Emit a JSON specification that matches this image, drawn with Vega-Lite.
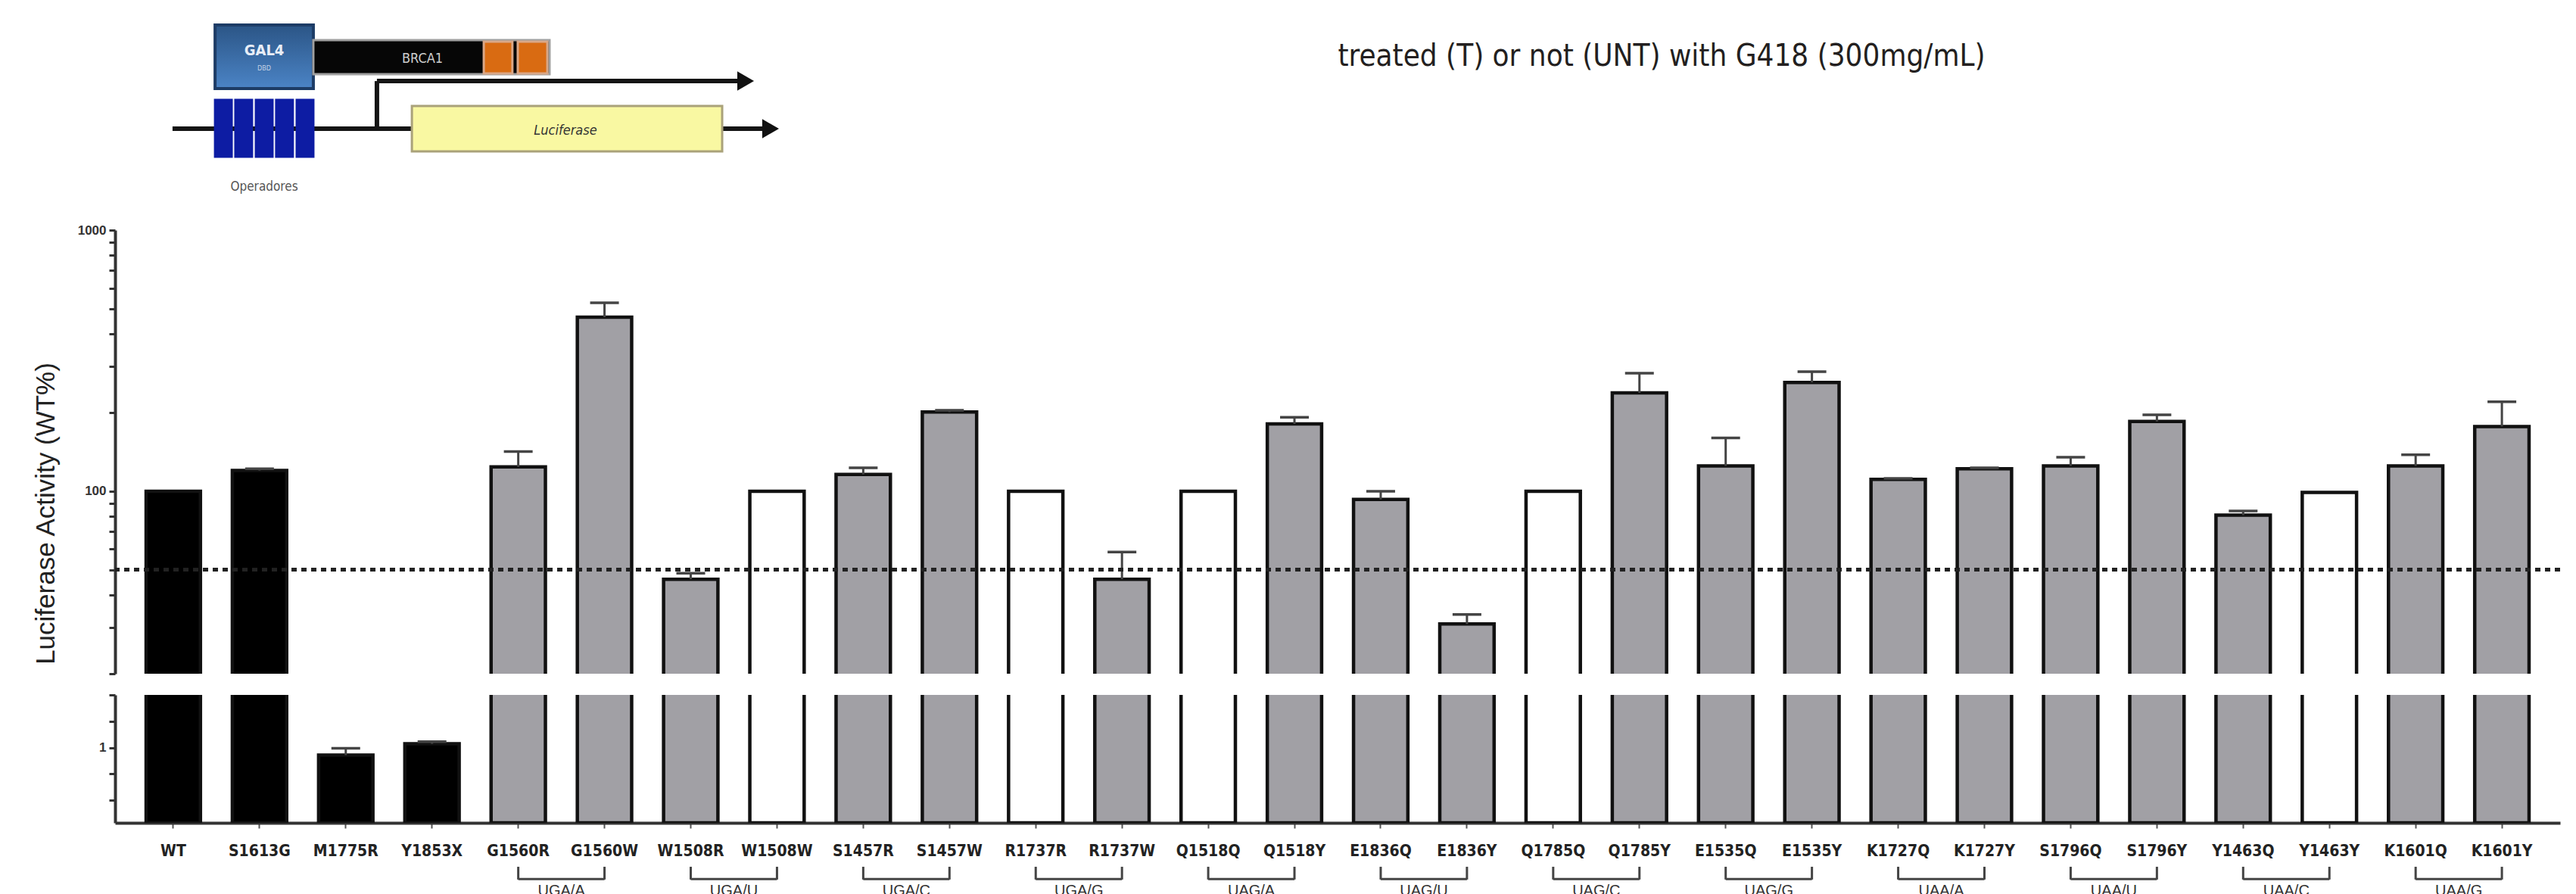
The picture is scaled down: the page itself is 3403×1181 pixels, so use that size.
{
  "$schema": "https://vega.github.io/schema/vega-lite/v6.json",
  "background": "white",
  "padding": {"left": 43, "top": 0, "right": 0, "bottom": 0},
  "bounds": "flush",
  "spacing": 28,
  "resolve": {"scale": {"fill": "independent", "stroke": "independent"}},
  "config": {"view": {"stroke": null}, "axis": {"grid": false}},
  "datasets": {
    "bars": [
      {"name": "WT", "value": 100, "err": null, "type": "control"},
      {"name": "S1613G", "value": 120, "err": 122, "type": "control"},
      {"name": "M1775R", "value": 0.9, "err": 0.99, "type": "control"},
      {"name": "Y1853X", "value": 1.05, "err": 1.08, "type": "control"},
      {"name": "G1560R", "value": 124, "err": 142, "type": "mut"},
      {"name": "G1560W", "value": 464, "err": 527, "type": "mut"},
      {"name": "W1508R", "value": 46, "err": 48.5, "type": "mut"},
      {"name": "W1508W", "value": 100, "err": null, "type": "syn"},
      {"name": "S1457R", "value": 116, "err": 123, "type": "mut"},
      {"name": "S1457W", "value": 201, "err": 204, "type": "mut"},
      {"name": "R1737R", "value": 100, "err": null, "type": "syn"},
      {"name": "R1737W", "value": 46, "err": 58.5, "type": "mut"},
      {"name": "Q1518Q", "value": 100, "err": null, "type": "syn"},
      {"name": "Q1518Y", "value": 181, "err": 192, "type": "mut"},
      {"name": "E1836Q", "value": 93, "err": 100, "type": "mut"},
      {"name": "E1836Y", "value": 31, "err": 33.7, "type": "mut"},
      {"name": "Q1785Q", "value": 100, "err": null, "type": "syn"},
      {"name": "Q1785Y", "value": 238, "err": 283, "type": "mut"},
      {"name": "E1535Q", "value": 125, "err": 160, "type": "mut"},
      {"name": "E1535Y", "value": 261, "err": 287, "type": "mut"},
      {"name": "K1727Q", "value": 111, "err": 112, "type": "mut"},
      {"name": "K1727Y", "value": 122, "err": 123, "type": "mut"},
      {"name": "S1796Q", "value": 125, "err": 135, "type": "mut"},
      {"name": "S1796Y", "value": 185, "err": 196, "type": "mut"},
      {"name": "Y1463Q", "value": 81, "err": 84, "type": "mut"},
      {"name": "Y1463Y", "value": 99, "err": null, "type": "syn"},
      {"name": "K1601Q", "value": 125, "err": 138, "type": "mut"},
      {"name": "K1601Y", "value": 177, "err": 220, "type": "mut"}
    ],
    "groups": [
      {"group": "UGA/A", "a": "G1560R", "b": "G1560W"},
      {"group": "UGA/U", "a": "W1508R", "b": "W1508W"},
      {"group": "UGA/C", "a": "S1457R", "b": "S1457W"},
      {"group": "UGA/G", "a": "R1737R", "b": "R1737W"},
      {"group": "UAG/A", "a": "Q1518Q", "b": "Q1518Y"},
      {"group": "UAG/U", "a": "E1836Q", "b": "E1836Y"},
      {"group": "UAG/C", "a": "Q1785Q", "b": "Q1785Y"},
      {"group": "UAG/G", "a": "E1535Q", "b": "E1535Y"},
      {"group": "UAA/A", "a": "K1727Q", "b": "K1727Y"},
      {"group": "UAA/U", "a": "S1796Q", "b": "S1796Y"},
      {"group": "UAA/C", "a": "Y1463Q", "b": "Y1463Y"},
      {"group": "UAA/G", "a": "K1601Q", "b": "K1601Y"}
    ],
    "diagram": [
      {"kind": "gal4", "part": "GAL4", "x1": 4.09, "x2": 8.11, "y1": 1.2, "y2": 4.24},
      {"kind": "rect", "part": "BRCA1", "x1": 8.11, "x2": 17.77, "y1": 1.92, "y2": 3.55},
      {"kind": "rect", "part": "motif", "x1": 15.08, "x2": 16.25, "y1": 1.99, "y2": 3.51},
      {"kind": "rect", "part": "motif", "x1": 16.47, "x2": 17.68, "y1": 1.99, "y2": 3.51},
      {"kind": "rect", "part": "operator", "x1": 4.09, "x2": 4.77, "y1": 4.78, "y2": 7.5},
      {"kind": "rect", "part": "operator", "x1": 4.92, "x2": 5.6, "y1": 4.78, "y2": 7.5},
      {"kind": "rect", "part": "operator", "x1": 5.76, "x2": 6.44, "y1": 4.78, "y2": 7.5},
      {"kind": "rect", "part": "operator", "x1": 6.59, "x2": 7.27, "y1": 4.78, "y2": 7.5},
      {"kind": "rect", "part": "operator", "x1": 7.43, "x2": 8.11, "y1": 4.78, "y2": 7.5},
      {"kind": "rect", "part": "Luciferase", "x1": 12.14, "x2": 24.83, "y1": 5.07, "y2": 7.25},
      {"kind": "line", "part": "promoter", "x1": 10.71, "x2": 10.71, "y1": 3.88, "y2": 6.16},
      {"kind": "line", "part": "transcript", "x1": 10.71, "x2": 25.6, "y1": 3.88, "y2": 3.88},
      {"kind": "line", "part": "dna", "x1": 2.35, "x2": 26.6, "y1": 6.16, "y2": 6.16},
      {"kind": "arrow", "part": "transcript", "x1": 25.79, "y1": 3.88},
      {"kind": "arrow", "part": "dna", "x1": 26.81, "y1": 6.16},
      {"kind": "text", "part": "gal4", "label": "GAL4", "x1": 6.1, "y1": 2.43},
      {"kind": "text", "part": "dbd", "label": "DBD", "x1": 6.1, "y1": 3.26},
      {"kind": "text", "part": "brca1", "label": "BRCA1", "x1": 12.57, "y1": 2.83},
      {"kind": "text", "part": "luc", "label": "Luciferase", "x1": 18.42, "y1": 6.27},
      {"kind": "text", "part": "oper", "label": "Operadores", "x1": 6.1, "y1": 8.95},
      {"kind": "text", "part": "title", "label": "treated (T) or not (UNT) with G418 (300mg/mL)", "x1": 63.25, "y1": 3.15}
    ]
  },
  "vconcat": [
    {
      "width": 3230,
      "height": 276,
      "data": {"name": "diagram"},
      "encoding": {
        "x": {"field": "x1", "type": "quantitative", "scale": {"domain": [0, 100], "nice": false, "zero": false}, "axis": null},
        "y": {"field": "y1", "type": "quantitative", "scale": {"domain": [0, 10], "nice": false, "zero": false, "reverse": true}, "axis": null}
      },
      "layer": [
        {
          "transform": [{"filter": "datum.kind == 'line'"}],
          "mark": {"type": "rule", "color": "#151515", "strokeWidth": 6},
          "encoding": {"x2": {"field": "x2"}, "y2": {"field": "y2"}}
        },
        {
          "transform": [{"filter": "datum.kind == 'gal4'"}],
          "mark": {"type": "rect", "stroke": "#1d3c66", "strokeWidth": 4, "fill": {"gradient": "linear", "x1": 0, "y1": 0, "x2": 0, "y2": 1, "stops": [{"offset": 0, "color": "#2b5586"}, {"offset": 1, "color": "#4b84c6"}]}},
          "encoding": {"x2": {"field": "x2"}, "y2": {"field": "y2"}}
        },
        {
          "transform": [{"filter": "datum.kind == 'rect'"}],
          "mark": {"type": "rect", "strokeWidth": 3},
          "encoding": {
            "x2": {"field": "x2"},
            "y2": {"field": "y2"},
            "fill": {"field": "part", "type": "nominal", "scale": {"domain": ["BRCA1", "motif", "operator", "Luciferase"], "range": ["#060606", "#d96b12", "#0d1ca3", "#f9f8a2"]}, "legend": null},
            "stroke": {"field": "part", "type": "nominal", "scale": {"domain": ["BRCA1", "motif", "operator", "Luciferase"], "range": ["#a0a0a0", "#d9a787", "#0d1ca3", "#aaa27a"]}, "legend": null}
          }
        },
        {
          "transform": [{"filter": "datum.kind == 'arrow'"}],
          "mark": {"type": "point", "shape": "triangle-right", "filled": true, "size": 650, "color": "#111", "opacity": 1}
        },
        {
          "transform": [{"filter": "datum.part == 'gal4'"}],
          "mark": {"type": "text", "font": "Liberation Sans Narrow, DejaVu Sans Condensed, Liberation Sans", "fontSize": 20, "fontWeight": "bold", "color": "#e8eef7", "baseline": "middle", "align": "center"},
          "encoding": {"text": {"field": "label"}}
        },
        {
          "transform": [{"filter": "datum.part == 'dbd'"}],
          "mark": {"type": "text", "font": "Liberation Sans Narrow, DejaVu Sans Condensed, Liberation Sans", "fontSize": 9, "color": "#c8d4e6", "baseline": "middle", "align": "center"},
          "encoding": {"text": {"field": "label"}}
        },
        {
          "transform": [{"filter": "datum.part == 'brca1'"}],
          "mark": {"type": "text", "font": "Liberation Sans Narrow, DejaVu Sans Condensed, Liberation Sans", "fontSize": 18, "color": "#cfcfcf", "baseline": "middle", "align": "center"},
          "encoding": {"text": {"field": "label"}}
        },
        {
          "transform": [{"filter": "datum.part == 'luc'"}],
          "mark": {"type": "text", "font": "Liberation Sans Narrow, DejaVu Sans Condensed, Liberation Sans", "fontSize": 18, "fontStyle": "italic", "color": "#333", "baseline": "middle", "align": "center"},
          "encoding": {"text": {"field": "label"}}
        },
        {
          "transform": [{"filter": "datum.part == 'oper'"}],
          "mark": {"type": "text", "font": "Liberation Sans Narrow, DejaVu Sans Condensed, Liberation Sans", "fontSize": 17, "color": "#555", "baseline": "middle", "align": "center"},
          "encoding": {"text": {"field": "label"}}
        },
        {
          "transform": [{"filter": "datum.part == 'title'"}],
          "mark": {"type": "text", "font": "Liberation Sans Narrow, DejaVu Sans Condensed, Liberation Sans", "fontSize": 40, "color": "#231f20", "baseline": "alphabetic", "align": "center"},
          "encoding": {"text": {"field": "label"}}
        }
      ]
    },
    {
      "width": 3230,
      "height": 586,
      "data": {"name": "bars"},
      "layer": [
        {
          "mark": {"type": "bar", "clip": true, "stroke": "#111", "strokeWidth": 4.5},
          "encoding": {
            "x": {"field": "name", "type": "nominal", "sort": null, "scale": {"paddingInner": 0.37, "paddingOuter": 0.36}, "axis": null},
            "y": {
              "field": "value", "type": "quantitative",
              "scale": {"type": "log", "domain": [20, 1000], "nice": false},
              "axis": {
                "title": "Luciferase Activity (WT%)",
                "titleFont": "Liberation Sans", "titleFontSize": 35, "titleFontWeight": "normal", "titleColor": "#222",
                "titleX": -92, "titleY": 374, "titleAngle": -90, "titleAlign": "center", "titleBaseline": "middle",
                "values": [20, 30, 40, 50, 60, 70, 80, 90, 100, 200, 300, 400, 500, 600, 700, 800, 900, 1000],
                "labelExpr": "datum.value == 100 ? '100' : (datum.value == 1000 ? '1000' : '')",
                "labelFont": "Liberation Sans", "labelFontSize": 17, "labelFontWeight": "bold", "labelColor": "#333", "labelPadding": 4,
                "tickSize": 8, "tickWidth": 3, "tickColor": "#333",
                "domainColor": "#333", "domainWidth": 4, "grid": false
              }
            },
            "y2": {"datum": 1},
            "fill": {"field": "type", "type": "nominal", "scale": {"domain": ["control", "mut", "syn"], "range": ["#000000", "#a1a0a5", "#ffffff"]}, "legend": null}
          }
        },
        {
          "transform": [{"filter": "datum.err != null"}],
          "mark": {"type": "rule", "clip": true, "color": "#444", "strokeWidth": 3},
          "encoding": {
            "x": {"field": "name", "type": "nominal", "sort": null},
            "y": {"field": "value", "type": "quantitative"},
            "y2": {"field": "err"}
          }
        },
        {
          "transform": [{"filter": "datum.err != null"}],
          "mark": {"type": "tick", "clip": true, "size": 38, "thickness": 3.5, "color": "#444", "opacity": 1},
          "encoding": {
            "x": {"field": "name", "type": "nominal", "sort": null},
            "y": {"field": "err", "type": "quantitative"}
          }
        },
        {
          "mark": {"type": "rule", "strokeDash": [7, 6], "strokeWidth": 4, "color": "#222"},
          "encoding": {"y": {"datum": 50}}
        }
      ]
    },
    {
      "width": 3230,
      "height": 169,
      "data": {"name": "bars"},
      "encoding": {
        "x": {
          "field": "name", "type": "nominal", "sort": null,
          "scale": {"paddingInner": 0.37, "paddingOuter": 0.36},
          "axis": {
            "title": null, "labelAngle": 0, "labelOverlap": false,
            "labelFont": "Liberation Sans Narrow, DejaVu Sans Condensed, Liberation Sans", "labelFontSize": 21, "labelFontWeight": "bold", "labelColor": "#222", "labelPadding": 19,
            "tickSize": 7, "tickWidth": 2, "tickColor": "#555",
            "domainColor": "#333", "domainWidth": 4
          }
        },
        "y": {
          "field": "value", "type": "quantitative",
          "scale": {"domain": [0, 1.7], "nice": false, "zero": false},
          "axis": {
            "title": null,
            "values": [0.3, 0.65, 1, 1.35, 1.7],
            "labelExpr": "datum.value == 1 ? '1' : ''",
            "labelFont": "Liberation Sans", "labelFontSize": 17, "labelFontWeight": "bold", "labelColor": "#333", "labelPadding": 4,
            "tickSize": 8, "tickWidth": 3, "tickColor": "#333",
            "domainColor": "#333", "domainWidth": 4, "grid": false
          }
        }
      },
      "layer": [
        {
          "mark": {"type": "bar", "clip": true, "stroke": "#111", "strokeWidth": 4.5},
          "encoding": {
            "y2": {"datum": 0},
            "fill": {"field": "type", "type": "nominal", "scale": {"domain": ["control", "mut", "syn"], "range": ["#000000", "#a1a0a5", "#ffffff"]}, "legend": null}
          }
        },
        {
          "transform": [{"filter": "datum.err != null"}],
          "mark": {"type": "rule", "clip": true, "color": "#444", "strokeWidth": 3},
          "encoding": {"y2": {"field": "err"}}
        },
        {
          "transform": [{"filter": "datum.err != null"}],
          "mark": {"type": "tick", "clip": true, "size": 38, "thickness": 3.5, "color": "#444", "opacity": 1},
          "encoding": {"y": {"field": "err", "type": "quantitative"}}
        }
      ]
    },
    {
      "width": 3230,
      "height": 66,
      "data": {"name": "groups"},
      "encoding": {
        "x": {
          "field": "a", "type": "nominal",
          "scale": {"domain": ["WT","S1613G","M1775R","Y1853X","G1560R","G1560W","W1508R","W1508W","S1457R","S1457W","R1737R","R1737W","Q1518Q","Q1518Y","E1836Q","E1836Y","Q1785Q","Q1785Y","E1535Q","E1535Y","K1727Q","K1727Y","S1796Q","S1796Y","Y1463Q","Y1463Y","K1601Q","K1601Y"], "paddingInner": 0.37, "paddingOuter": 0.36},
          "axis": null
        }
      },
      "layer": [
        {
          "mark": {"type": "rule", "color": "#444", "strokeWidth": 3},
          "encoding": {
            "x2": {"field": "b"},
            "y": {"datum": 7, "type": "quantitative", "scale": {"domain": [0, 10], "nice": false, "zero": false, "reverse": true}, "axis": null}
          }
        },
        {
          "mark": {"type": "rule", "color": "#444", "strokeWidth": 3},
          "encoding": {"y": {"datum": 4.55, "type": "quantitative"}, "y2": {"datum": 7.1}}
        },
        {
          "mark": {"type": "rule", "color": "#444", "strokeWidth": 3},
          "encoding": {"x": {"field": "b", "type": "nominal"}, "y": {"datum": 4.55, "type": "quantitative"}, "y2": {"datum": 7.1}}
        },
        {
          "mark": {"type": "text", "dx": 57, "baseline": "top", "align": "center", "font": "Liberation Sans", "fontSize": 20, "color": "#333"},
          "encoding": {"y": {"datum": 7.9, "type": "quantitative"}, "text": {"field": "group"}}
        }
      ]
    }
  ]
}
